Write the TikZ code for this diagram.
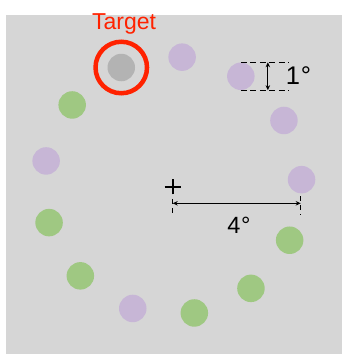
\documentclass[tikz,border=0pt]{standalone}
\usepackage{fontspec}
\setmainfont{Liberation Sans}
\usetikzlibrary{arrows.meta,calc}
\definecolor{bggray}{HTML}{D6D6D6}
\definecolor{lav}{HTML}{C7B6D6}
\definecolor{leaf}{HTML}{9FC882}
\definecolor{tgray}{HTML}{B3B3B3}
\definecolor{tred}{HTML}{FF2200}
\begin{document}
\begin{tikzpicture}[x=1pt,y=1pt,
  dot/.style={circle,minimum size=27.5pt,inner sep=0pt,draw=none},
  pur/.style={dot,fill=lav},
  grn/.style={dot,fill=leaf},
  tgt/.style={dot,fill=tgray},
  dimarrow/.style={line width=1.2pt,{Stealth[length=5pt,width=4.5pt]}-{Stealth[length=5pt,width=4.5pt]}},
  guide/.style={line width=1pt,dash pattern=on 6pt off 3.5pt},
  tick/.style={line width=1.1pt,dash pattern=on 5pt off 4pt},
  lbl/.style={font=\fontsize{23}{25}\selectfont,inner sep=0pt,anchor=base}]
\useasboundingbox (0,0) rectangle (342,354);
\fill[bggray] (6,0) rectangle (342,339);
\coordinate (ctr) at (172.7,168.2);
\foreach[count=\i from 0] \col in {tgt,pur,pur,pur,pur,grn,grn,grn,pur,grn,grn,pur,grn}
  \node[\col] (d\i) at ($(ctr)+({113.5-27.692*\i}:129)$) {};
% target ring and label
\node[circle,draw=tred,line width=4.5pt,minimum size=51.5pt,inner sep=0pt] (ring) at (d0) {};
\node[lbl,text=tred] (tlab) at (124,324.7) {Target};
% fixation cross
\coordinate (fix) at (172.7,167);
\draw[line width=2pt] ($(fix)+(-8,0)$) -- ($(fix)+(8,0)$);
\draw[line width=2pt] ($(fix)+(0,-7.5)$) -- ($(fix)+(0,7.5)$);
% 1 degree marker
\coordinate (gt) at (d2.north);
\coordinate (gb) at (d2.south);
\draw[guide] (gt) -- ++(48,0);
\draw[guide] (gb) -- ++(48,0);
\coordinate (at) at ($(gt)+(27,0)$);
\coordinate (ab) at ($(gb)+(27,0)$);
\draw[dimarrow] (at) -- (ab);
\node[lbl,font=\fontsize{25.5}{27}\selectfont] (one) at (298.5,269) {1\kern0.8pt°};
% 4 degree marker
\coordinate (al) at (172.7,150.7);
\coordinate (ar) at (300.7,150.7);
\draw[tick] (172.7,155) -- (172.7,139);
\draw[tick] (300.7,157.5) -- (300.7,139);
\draw[dimarrow] (al) -- (ar);
\node[lbl,font=\fontsize{23.5}{25}\selectfont] (four) at (239,120.7) {4\kern0.8pt°};
\end{tikzpicture}
\end{document}
